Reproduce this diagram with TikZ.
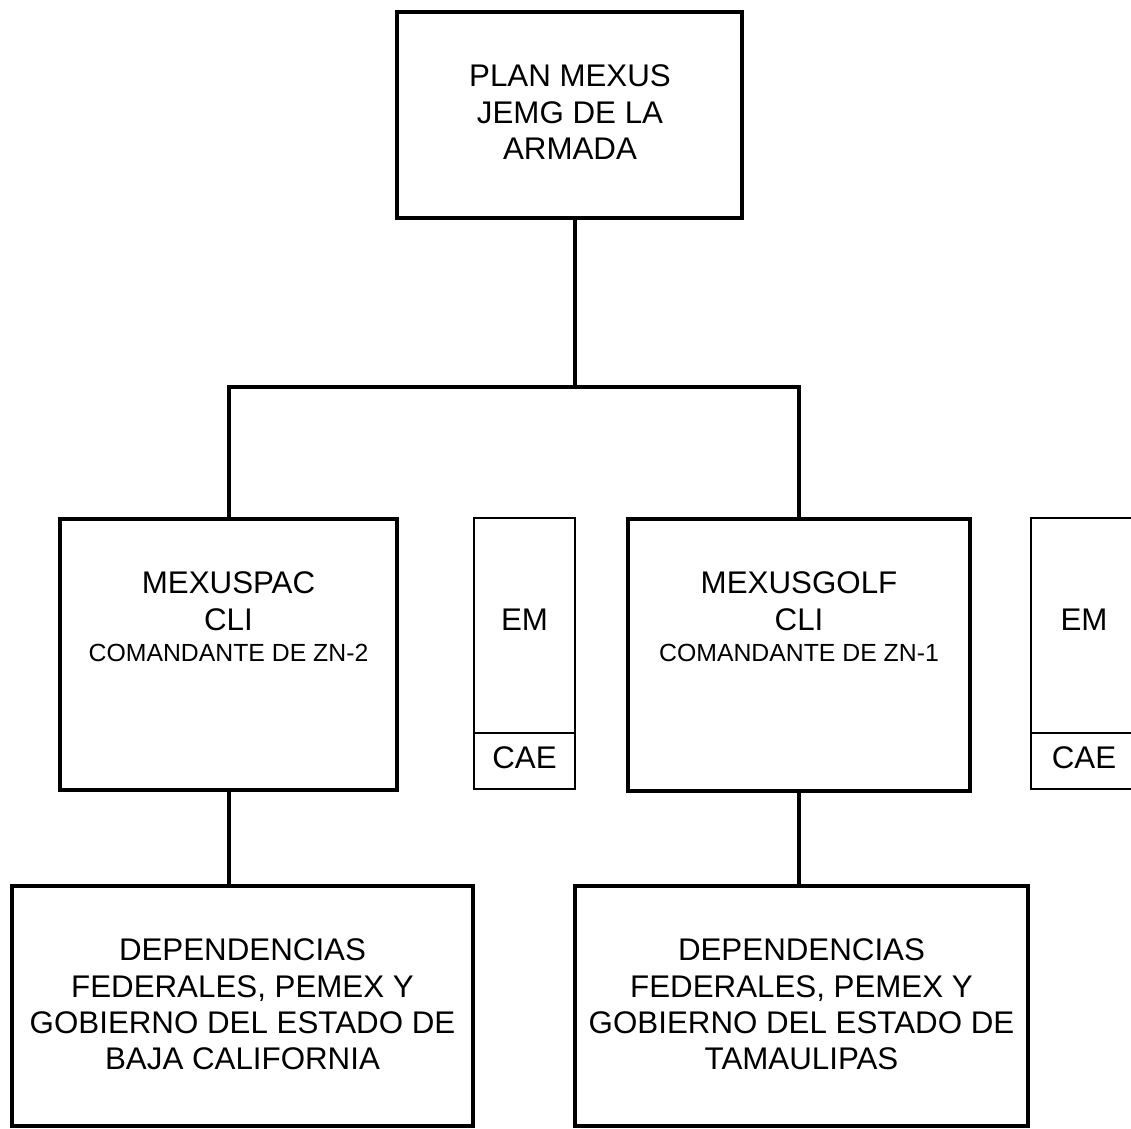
\documentclass[tikz,border=0pt]{standalone}
\usepackage{fontspec}
\setmainfont{Liberation Sans}
\begin{document}
\begin{tikzpicture}[x=1pt,y=-1pt,
  big/.style={font=\fontsize{31.3}{37}\selectfont, inner sep=0pt, anchor=base},
  small/.style={font=\fontsize{24.8}{28}\selectfont, inner sep=0pt, anchor=base},
  thickbox/.style={draw, line width=4pt, inner sep=0pt},
  thinbox/.style={draw, line width=1.5pt, inner sep=0pt},
  conn/.style={line width=4pt},
  thinline/.style={line width=1.5pt}]
\clip (0,0) rectangle (1131,1128);
\fill[white] (0,0) rectangle (1131,1128);
% boxes
\node[thickbox, minimum width=345pt, minimum height=206pt] (top) at (569.5,115) {};
\node[thickbox, minimum width=337pt, minimum height=271pt] (pac) at (228.5,654.5) {};
\node[thickbox, minimum width=342pt, minimum height=272pt] (golf) at (799,655) {};
\node[thinbox, minimum width=101pt, minimum height=271pt] (em1) at (524.5,653.5) {};
\node[thinbox, minimum width=106pt, minimum height=271pt] (em2) at (1084,653.5) {};
\node[thickbox, minimum width=461pt, minimum height=240pt] (fedl) at (242.5,1006) {};
\node[thickbox, minimum width=453pt, minimum height=240pt] (fedr) at (801.5,1006) {};
\coordinate (div) at (0,733);
\draw[thinline] (em1.west |- div) -- (em1.east |- div);
\draw[thinline] (em2.west |- div) -- (em2.east |- div);
% connectors
\coordinate (bus) at (575,387);
\draw[conn] (top.south -| bus) -- (bus);
\draw[conn] (pac.north) |- (bus) -| (golf.north);
\draw[conn] (pac.south) -- (pac.south |- fedl.north);
\draw[conn] (golf.south) -- (golf.south |- fedr.north);
% texts
\node[big] (t1) at (570,86) {PLAN MEXUS};
\node[big] (t2) at (570,123) {JEMG DE LA};
\node[big] (t3) at (570,159) {ARMADA};
\node[big] (p1) at (228.5,593) {MEXUSPAC};
\node[big] (p2) at (228.5,630) {CLI};
\node[small] (p3) at (228.5,661) {COMANDANTE DE ZN-2};
\node[big] (g1) at (799,593) {MEXUSGOLF};
\node[big] (g2) at (799,630) {CLI};
\node[small] (g3) at (799,661) {COMANDANTE DE ZN-1};
\node[big] (e1) at (524.5,630) {EM};
\node[big] (c1) at (524.5,768) {CAE};
\node[big] (e2) at (1084,630) {EM};
\node[big] (c2) at (1084,768) {CAE};
\node[big] (l1) at (242.5,960) {DEPENDENCIAS};
\node[big] (l2) at (242.5,997) {FEDERALES, PEMEX Y};
\node[big] (l3) at (242.5,1033) {GOBIERNO DEL ESTADO DE};
\node[big] (l4) at (242.5,1069) {BAJA CALIFORNIA};
\node[big] (r1) at (801.5,960) {DEPENDENCIAS};
\node[big] (r2) at (801.5,997) {FEDERALES, PEMEX Y};
\node[big] (r3) at (801.5,1033) {GOBIERNO DEL ESTADO DE};
\node[big] (r4) at (801.5,1069) {TAMAULIPAS};
\end{tikzpicture}
\end{document}
